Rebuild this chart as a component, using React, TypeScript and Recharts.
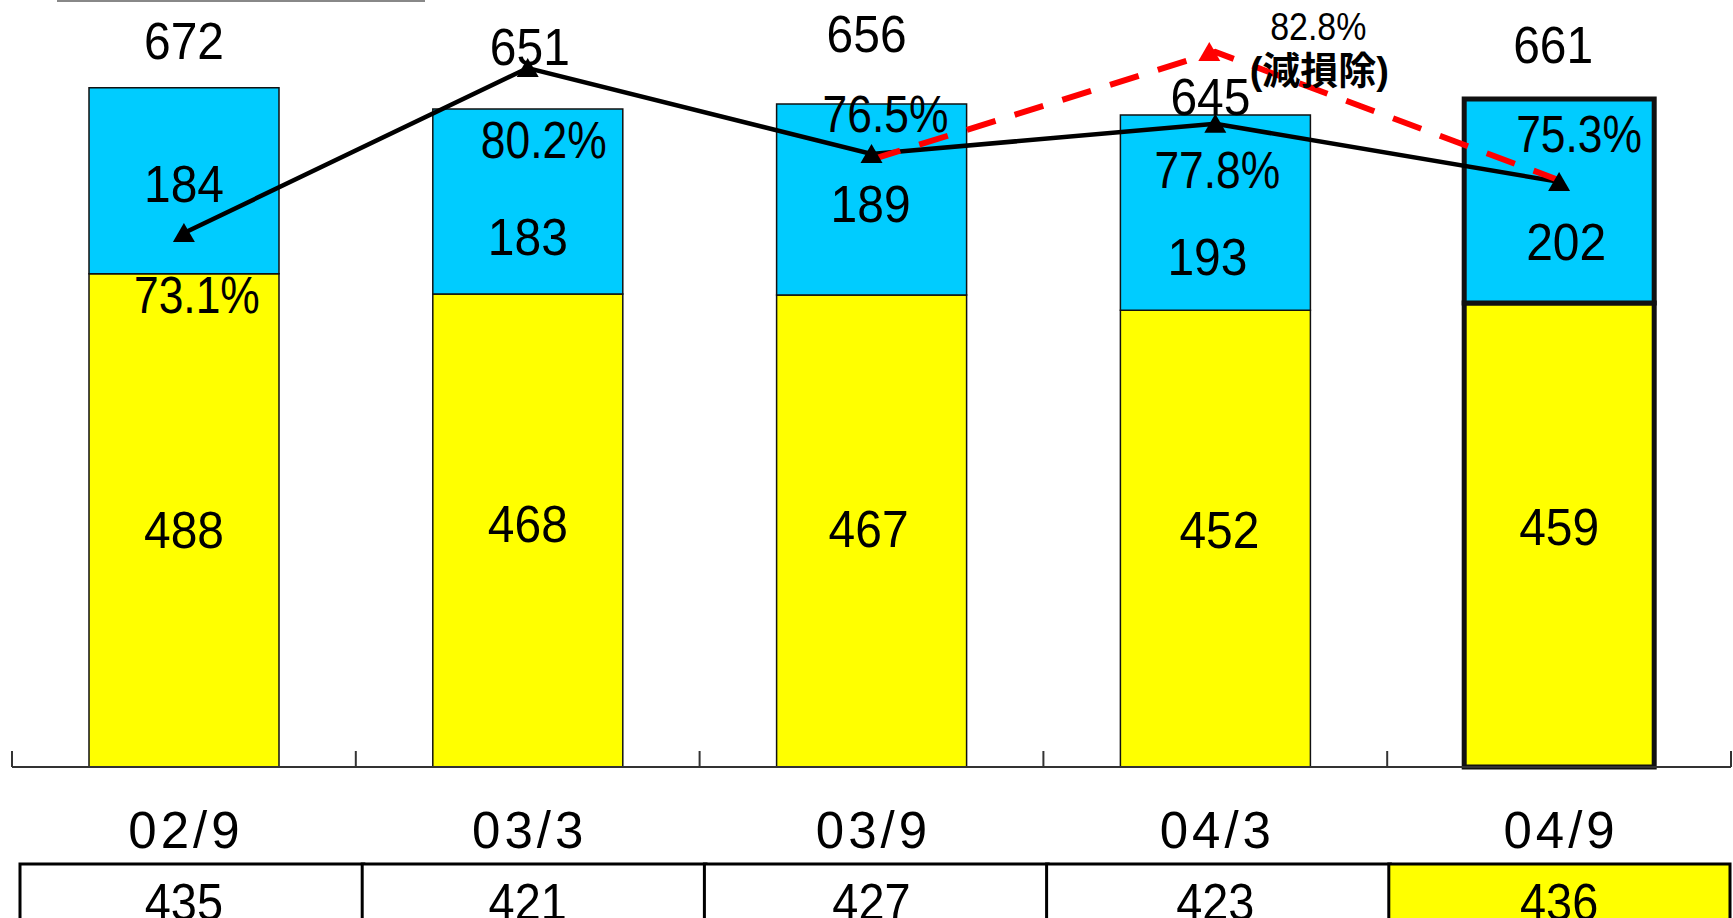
import { ComposedChart, Bar, Line, XAxis, YAxis, Cell, LabelList } from "recharts";

const periods = ["02/9", "03/3", "03/9", "04/3", "04/9"];
const yellowValues = [488, 468, 467, 452, 459];
const blueValues = [184, 183, 189, 193, 202];
const ratioValues = [73.1, 80.2, 76.5, 77.8, 75.3];
const ratioExImpairment = [null, null, 76.5, 82.8, 75.3];
const tableValues = [435, 421, 427, 423, 436];
const exImpairmentNote = "(減損除)";

const data = periods.map((period, i) => ({
  period,
  yellow: yellowValues[i],
  blue: blueValues[i],
  total: yellowValues[i] + blueValues[i],
  ratio: ratioValues[i],
  ratioEx: ratioExImpairment[i],
}));

// label nudges [dx, dy], hand placed like the original slide
const totalOffset = [[0, -29], [2, -44], [-5, -52], [-5, 0], [-6, -36]];
const blueOffset = [[0, 21], [0, 53], [-1, 22], [-8, 62], [7, 59]];
const yellowOffset = [[0, 28], [0, 11], [-3, 16], [4, 9], [0, 10]];
const ratioOffset = [[13, 80], [16, 90], [14, -22], [2, 64], [20, -30]];

const FONT = "'Liberation Sans', Arial, sans-serif";
const FS = 51;
const highlight = periods.length - 1;

const box = (p: any) => {
  const vb = p.viewBox ?? {};
  return {
    x: p.x ?? vb.x,
    y: p.y ?? vb.y,
    width: p.width ?? vb.width ?? 0,
    height: p.height ?? vb.height ?? 0,
  };
};

// the slide font is a bit narrower than Arial, so squeeze horizontally
const Txt = ({ x, y, children, size = FS, weight = 400, sx = 0.94 }: any) => (
  <text
    transform={`translate(${x} ${y}) scale(${sx} 1)`}
    textAnchor="middle"
    fontSize={size}
    fontWeight={weight}
    fontFamily={FONT}
    fill="#000"
  >
    {children}
  </text>
);

const Triangle = ({ cx, cy, fill }: any) => (
  <polygon points={`${cx - 11},${cy + 9} ${cx + 11},${cy + 9} ${cx},${cy - 10}`} fill={fill} />
);

const PeriodTick = (props: any) => {
  const { x, y, payload } = props;
  const index = props.index ?? payload.index ?? 0;
  const half = payload?.offset || 171.9;
  const left = x - half;
  const right = x + half;
  const isLast = index === periods.length - 1;
  const cellLeft = left + 8 - 1.6 * index;
  return (
    <g>
      <line x1={left} x2={left} y1={y - 16} y2={y} stroke="#333" strokeWidth={2} />
      {isLast && <line x1={right} x2={right} y1={y - 16} y2={y} stroke="#333" strokeWidth={2} />}
      <text x={x + 2} y={y + 81} textAnchor="middle" fontSize={FS} letterSpacing={4} fontFamily={FONT} fill="#000">
        {payload.value}
      </text>
      <rect
        x={cellLeft}
        y={y + 97}
        width={isLast ? right - cellLeft - 1 : 2 * half}
        height={90}
        fill={index === highlight ? "#FFFF00" : "#FFFFFF"}
        stroke="#000"
        strokeWidth={3}
      />
      <Txt x={x} y={y + 153} sx={0.92}>{tableValues[index]}</Txt>
    </g>
  );
};

export default function App() {
  return (
    <div style={{ position: "absolute", left: 0, top: 0, width: 1733, height: 918, overflow: "hidden", background: "#fff" }}>
      <div style={{ position: "absolute", left: 57, top: 0, width: 368, height: 2, background: "#888" }} />
      <ComposedChart width={1733} height={918} data={data} margin={{ top: 9, right: 2, bottom: 0, left: 12 }}>
        <XAxis
          dataKey="period"
          height={151}
          interval={0}
          tickLine={false}
          tickSize={0}
          tickMargin={0}
          axisLine={{ stroke: "#333", strokeWidth: 2 }}
          tick={<PeriodTick />}
        />
        <YAxis yAxisId="amt" hide domain={[0, 750]} />
        <YAxis yAxisId="ratio" hide domain={[50.12, 82.74]} />
        <YAxis yAxisId="ratioEx" hide domain={[40.99, 85.31]} />

        <Bar yAxisId="amt" dataKey="yellow" stackId="s" barSize={190} isAnimationActive={false}>
          {data.map((_, i) => (
            <Cell key={i} fill="#FFFF00" stroke="#111" strokeWidth={i === highlight ? 5 : 1.5} />
          ))}
          <LabelList
            dataKey="yellow"
            content={(p: any) => {
              const b = box(p);
              const [dx, dy] = yellowOffset[p.index] ?? [0, 0];
              return <Txt x={b.x + b.width / 2 + dx} y={b.y + b.height / 2 + dy}>{p.value}</Txt>;
            }}
          />
        </Bar>
        <Bar yAxisId="amt" dataKey="blue" stackId="s" barSize={190} isAnimationActive={false}>
          {data.map((_, i) => (
            <Cell key={i} fill="#00CCFF" stroke="#111" strokeWidth={i === highlight ? 5 : 1.5} />
          ))}
          <LabelList
            dataKey="blue"
            content={(p: any) => {
              const b = box(p);
              const [dx, dy] = blueOffset[p.index] ?? [0, 0];
              return <Txt x={b.x + b.width / 2 + dx} y={b.y + b.height / 2 + dy}>{p.value}</Txt>;
            }}
          />
          <LabelList
            dataKey="total"
            content={(p: any) => {
              const b = box(p);
              const [dx, dy] = totalOffset[p.index] ?? [0, 0];
              return <Txt x={b.x + b.width / 2 + dx} y={b.y + dy}>{p.value}</Txt>;
            }}
          />
        </Bar>

        <Line
          yAxisId="ratio"
          type="linear"
          dataKey="ratio"
          stroke="#000"
          strokeWidth={4.5}
          dot={(p: any) => <Triangle key={`r${p.index}`} cx={p.cx} cy={p.cy} fill="#000" />}
          activeDot={false}
          isAnimationActive={false}
        >
          <LabelList
            dataKey="ratio"
            content={(p: any) => {
              const [dx, dy] = ratioOffset[p.index] ?? [0, 0];
              return <Txt x={p.x + dx} y={p.y + dy} sx={0.87}>{`${p.value.toFixed(1)}%`}</Txt>;
            }}
          />
        </Line>
        <Line
          yAxisId="ratioEx"
          type="linear"
          dataKey="ratioEx"
          stroke="#FF0000"
          strokeWidth={6}
          strokeDasharray="30 20"
          dot={(p: any) =>
            p.index === 3 ? <Triangle key={`e${p.index}`} cx={p.cx - 6} cy={p.cy} fill="#FF0000" /> : <g key={`e${p.index}`} />
          }
          activeDot={false}
          isAnimationActive={false}
        >
          <LabelList
            dataKey="ratioEx"
            content={(p: any) =>
              p.index === 3 ? (
                <g>
                  <Txt x={p.x + 103} y={p.y - 12} size={39} sx={0.87}>{`${p.value.toFixed(1)}%`}</Txt>
                  <text
                    x={p.x + 104}
                    y={p.y + 32}
                    textAnchor="middle"
                    fontSize={38}
                    fontWeight={700}
                    fontFamily="'Liberation Sans', 'Noto Sans CJK JP', sans-serif"
                    fill="#000"
                  >
                    {exImpairmentNote}
                  </text>
                </g>
              ) : null
            }
          />
        </Line>
      </ComposedChart>
    </div>
  );
}
